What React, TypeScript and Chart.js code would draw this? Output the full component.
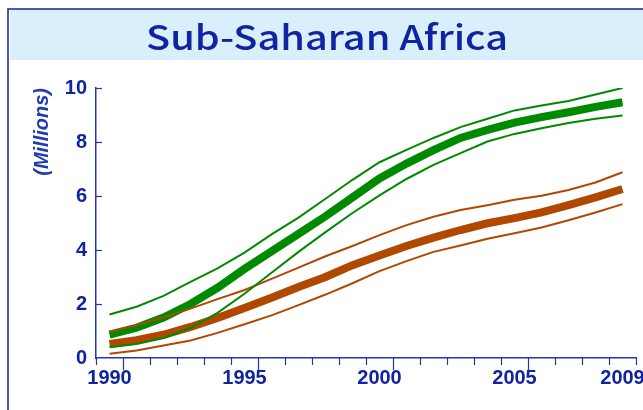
import React, { useEffect, useRef } from "react";
import { Chart, registerables } from "chart.js";

Chart.register(...registerables);

const TITLE = "Sub-Saharan Africa";
const Y_TITLE = "(Millions)";
const YEARS = [
  "1990", "1991", "1992", "1993", "1994", "1995", "1996", "1997", "1998", "1999",
  "2000", "2001", "2002", "2003", "2004", "2005", "2006", "2007", "2008", "2009",
];
const SHOWN_YEARS = ["1990", "1995", "2000", "2005", "2009"];
const Y_TICKS = [0, 2, 4, 6, 8, 10];

const greenMid = [0.87, 1.12, 1.5, 2.0, 2.6, 3.3, 3.95, 4.6, 5.25, 5.95, 6.65, 7.2, 7.7, 8.15, 8.45, 8.72, 8.92, 9.1, 9.3, 9.47];
const greenHigh = [1.61, 1.9, 2.3, 2.82, 3.32, 3.9, 4.58, 5.2, 5.9, 6.6, 7.25, 7.71, 8.15, 8.55, 8.86, 9.17, 9.35, 9.52, 9.76, 10.0];
const greenLow = [0.4, 0.52, 0.74, 1.11, 1.67, 2.38, 3.16, 3.93, 4.66, 5.37, 6.02, 6.63, 7.15, 7.59, 8.02, 8.3, 8.51, 8.7, 8.86, 8.98];
const brownMid = [0.52, 0.66, 0.86, 1.15, 1.48, 1.85, 2.23, 2.63, 3.0, 3.44, 3.8, 4.15, 4.46, 4.74, 4.99, 5.18, 5.39, 5.66, 5.95, 6.26];
const brownHigh = [0.97, 1.22, 1.5, 1.83, 2.18, 2.52, 2.93, 3.35, 3.77, 4.15, 4.55, 4.92, 5.23, 5.48, 5.66, 5.86, 6.01, 6.22, 6.5, 6.88];
const brownLow = [0.16, 0.28, 0.46, 0.65, 0.93, 1.25, 1.58, 1.96, 2.35, 2.77, 3.22, 3.59, 3.93, 4.17, 4.42, 4.62, 4.83, 5.1, 5.39, 5.7];

const GREEN = "#008a00";
const BROWN = "#b04800";
const TEXT_BLUE = "#1024a2";
const AXIS_BLUE = "#2236b0";
const BAND = "#d9effc";
const BORDER = "#14208c";

const W = 643;
const H = 410;

const framePlugin = {
  id: "frame",
  beforeDraw(chart: any) {
    const ctx = chart.ctx;
    ctx.save();
    ctx.fillStyle = "#ffffff";
    ctx.fillRect(0, 0, W, H);
    ctx.fillStyle = BAND;
    ctx.fillRect(10, 10, W - 10, 50);
    ctx.strokeStyle = BORDER;
    ctx.lineWidth = 1.5;
    ctx.beginPath();
    ctx.moveTo(8, H);
    ctx.lineTo(8, 9);
    ctx.lineTo(W, 9);
    ctx.stroke();
    // title
    ctx.font = '500 34px "Noto Sans CJK JP", "Noto Sans", sans-serif';
    const target = 362;
    const w0 = ctx.measureText(TITLE).width;
    const sx = target / w0;
    ctx.fillStyle = TEXT_BLUE;
    ctx.textAlign = "left";
    ctx.textBaseline = "alphabetic";
    ctx.translate(146, 49.5);
    ctx.scale(sx, 1);
    ctx.fillText(TITLE, 0, 0);
    ctx.restore();
  },
  afterDraw(chart: any) {
    const ctx = chart.ctx;
    const ys = chart.scales.y;
    const area = chart.chartArea;
    ctx.save();
    ctx.strokeStyle = AXIS_BLUE;
    ctx.lineWidth = 1.2;
    const n = YEARS.length;
    const step = (area.right - area.left) / n;
    for (let i = 0; i <= n; i++) {
      const x = Math.round(area.left + i * step) + 0.5;
      const major = i === 1 || i === 6 || i === 11 || i === 16;
      ctx.beginPath();
      ctx.moveTo(x, area.bottom);
      ctx.lineTo(x, area.bottom + (major ? 12 : 7));
      ctx.stroke();
    }
    for (const v of Y_TICKS) {
      if (v === 0) continue;
      const y = Math.round(ys.getPixelForValue(v)) + 0.5;
      ctx.beginPath();
      ctx.moveTo(area.left, y);
      ctx.lineTo(area.left + 6, y);
      ctx.stroke();
    }
    ctx.restore();
  },
};

export default function App() {
  const ref = useRef<HTMLCanvasElement>(null);
  useEffect(() => {
    if (!ref.current) return;
    const thin = 2;
    const thick = 8;
    const chart = new Chart(ref.current, {
      type: "line",
      data: {
        labels: YEARS,
        datasets: [
          { label: "Women high", data: greenHigh, borderColor: GREEN, borderWidth: thin },
          { label: "Women low", data: greenLow, borderColor: GREEN, borderWidth: thin },
          { label: "Men high", data: brownHigh, borderColor: BROWN, borderWidth: thin },
          { label: "Men low", data: brownLow, borderColor: BROWN, borderWidth: thin },
          { label: "Women", data: greenMid, borderColor: GREEN, borderWidth: thick },
          { label: "Men", data: brownMid, borderColor: BROWN, borderWidth: thick },
        ].map((d) => ({
          ...d,
          pointRadius: 0,
          pointHoverRadius: 0,
          tension: 0,
          fill: false,
          borderCapStyle: "butt" as const,
        })),
      },
      options: {
        animation: false,
        responsive: false,
        maintainAspectRatio: false,
        layout: { padding: { top: 88, right: 7, bottom: 0, left: 30 } },
        plugins: {
          legend: { display: false },
          title: { display: false },
          tooltip: { enabled: false },
        },
        scales: {
          x: {
            type: "category",
            offset: true,
            grid: { display: true, drawOnChartArea: false, drawTicks: false, color: "transparent" },
            border: { display: true, color: AXIS_BLUE, width: 1.5 },
            ticks: {
              autoSkip: false,
              maxRotation: 0,
              padding: 8,
              color: TEXT_BLUE,
              font: { family: '"Liberation Sans", Arial, sans-serif', size: 20, weight: "bold" },
              callback: function (this: any, val: any) {
                const lbl = this.getLabelForValue(val);
                return SHOWN_YEARS.includes(lbl) ? lbl : "";
              },
            },
            afterFit: (s: any) => {
              s.height = H - 358;
              s.paddingLeft = 0;
              s.paddingRight = 0;
            },
          },
          y: {
            min: 0,
            max: 10,
            afterBuildTicks: (s: any) => {
              s.ticks = Y_TICKS.map((v) => ({ value: v }));
            },
            grid: { display: true, drawOnChartArea: false, drawTicks: false, color: "transparent" },
            border: { display: true, color: AXIS_BLUE, width: 1.5 },
            ticks: {
              padding: 9,
              color: TEXT_BLUE,
              font: { family: '"Liberation Sans", Arial, sans-serif', size: 20, weight: "bold" },
            },
            title: {
              display: true,
              text: Y_TITLE,
              align: "end",
              color: "#1f3cb4",
              padding: 0,
              font: { family: '"Liberation Sans", Arial, sans-serif', size: 20, weight: "bold", style: "italic" },
            },
            afterFit: (s: any) => {
              s.width = 96 - 30;
            },
          },
        },
      },
      plugins: [framePlugin],
    });
    return () => chart.destroy();
  }, []);
  return (
    <div style={{ position: "absolute", left: 0, top: 0, width: W, height: H }}>
      <canvas ref={ref} width={W} height={H} style={{ display: "block" }} />
    </div>
  );
}
